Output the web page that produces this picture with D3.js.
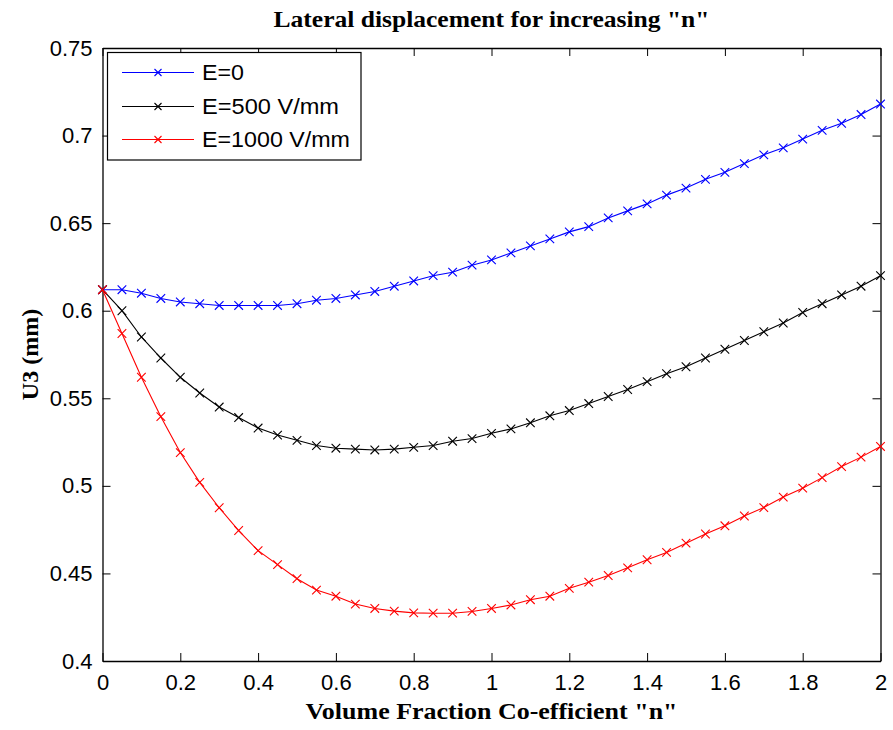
<!DOCTYPE html>
<html>
<head>
<meta charset="utf-8">
<script src="https://cdn.jsdelivr.net/npm/d3@7"></script>
<style>
  html, body { margin: 0; padding: 0; background: #fff; }
  svg { display: block; }
</style>
</head>
<body>
<svg id="chart" width="893" height="730"></svg>
<script>
const nValues = [0, 0.05, 0.1, 0.15, 0.2, 0.25, 0.3, 0.35, 0.4, 0.45, 0.5, 0.55, 0.6, 0.65, 0.7, 0.75, 0.8, 0.85, 0.9, 0.95, 1.0,
  1.05, 1.1, 1.15, 1.2, 1.25, 1.3, 1.35, 1.4, 1.45, 1.5, 1.55, 1.6, 1.65, 1.7, 1.75, 1.8, 1.85, 1.9, 1.95, 2.0];

const uE0 = [0.612, 0.612, 0.610, 0.607, 0.605, 0.604, 0.603, 0.603, 0.603, 0.603, 0.604, 0.606, 0.607, 0.609, 0.611, 0.614,
  0.617, 0.620, 0.622, 0.626, 0.629, 0.633, 0.637, 0.641, 0.645, 0.648, 0.653, 0.657, 0.661, 0.666, 0.670, 0.675, 0.679,
  0.684, 0.689, 0.693, 0.698, 0.703, 0.707, 0.712, 0.718];

const uE500 = [0.612, 0.600, 0.585, 0.573, 0.562, 0.553, 0.545, 0.539, 0.533, 0.529, 0.526, 0.523, 0.5215, 0.521, 0.5205,
  0.521, 0.522, 0.523, 0.5255, 0.527, 0.530, 0.5325, 0.536, 0.540, 0.543, 0.547, 0.551, 0.555, 0.5595, 0.564, 0.568, 0.573,
  0.578, 0.583, 0.588, 0.593, 0.599, 0.604, 0.609, 0.614, 0.620];

const uE1000 = [0.612, 0.587, 0.562, 0.5395, 0.519, 0.502, 0.4875, 0.4745, 0.463, 0.455, 0.447, 0.4405, 0.437, 0.4325, 0.430,
  0.4285, 0.4275, 0.4273, 0.4273, 0.4283, 0.430, 0.432, 0.435, 0.437, 0.4415, 0.445, 0.4488, 0.4532, 0.4578, 0.462, 0.4673,
  0.4725, 0.4772, 0.4828, 0.4876, 0.4936, 0.4987, 0.5047, 0.511, 0.5164, 0.5225];

const seriesNames = ["E=0", "E=500 V/mm", "E=1000 V/mm"];
const seriesColors = ["#0000ff", "#000000", "#ff0000"];
const xTicks = [0, 0.2, 0.4, 0.6, 0.8, 1, 1.2, 1.4, 1.6, 1.8, 2];
const yTicks = [0.4, 0.45, 0.5, 0.55, 0.6, 0.65, 0.7, 0.75];

const titleText = 'Lateral displacement for increasing "n"';
const xLabelText = 'Volume Fraction Co-efficient "n"';
const yLabelText = 'U3 (mm)';

const L = 102.5, R = 880.5, T = 48, B = 661;
const svg = d3.select("#chart");
const x = d3.scaleLinear().domain([0, 2]).range([L, R]);
const y = d3.scaleLinear().domain([0.4, 0.75]).range([B, T]);

const tickFont = "'Liberation Sans', Arial, sans-serif";
const serif = "'Liberation Serif', 'Times New Roman', serif";

// Axes (MATLAB style box with inward ticks on all sides)
const tl = 8;
const gx = svg.append("g").attr("transform", `translate(0,${B})`)
  .call(d3.axisBottom(x).tickValues(xTicks).tickSizeInner(-tl).tickSizeOuter(0).tickPadding(13)
    .tickFormat(d3.format("~g")));
const gxTop = svg.append("g").attr("transform", `translate(0,${T})`)
  .call(d3.axisTop(x).tickValues(xTicks).tickSizeInner(-tl).tickSizeOuter(0).tickFormat(""));
const gy = svg.append("g").attr("transform", `translate(${L},0)`)
  .call(d3.axisLeft(y).tickValues(yTicks).tickSizeInner(-tl).tickSizeOuter(0).tickPadding(10)
    .tickFormat(d3.format("~g")));
const gyR = svg.append("g").attr("transform", `translate(${R},0)`)
  .call(d3.axisRight(y).tickValues(yTicks).tickSizeInner(-tl).tickSizeOuter(0).tickFormat(""));

[gx, gxTop, gy, gyR].forEach(g => {
  g.select(".domain").attr("stroke", "#000").attr("stroke-width", 1.3);
  g.selectAll(".tick line").attr("stroke", "#000").attr("stroke-width", 1);
  g.selectAll("text").attr("font-family", tickFont).attr("font-size", 22).attr("fill", "#000");
});
gx.selectAll(".tick text").attr("dy", "0.71em").attr("y", 13);

// Series
const series = [uE0, uE500, uE1000];
const line = d3.line().x((d, i) => x(nValues[i])).y(d => y(d));
const ms = 4.3;
series.forEach((vals, si) => {
  const g = svg.append("g");
  g.append("path").datum(vals).attr("d", line).attr("fill", "none")
    .attr("stroke", seriesColors[si]).attr("stroke-width", 1.1);
  g.selectAll("path.mk").data(vals).join("path").attr("class", "mk")
    .attr("d", (d, i) => {
      const cx = x(nValues[i]), cy = y(d);
      return `M${cx - ms},${cy - ms}L${cx + ms},${cy + ms}M${cx - ms},${cy + ms}L${cx + ms},${cy - ms}`;
    })
    .attr("stroke", seriesColors[si]).attr("stroke-width", 1.1).attr("fill", "none");
});

// Legend
const legendWidths = [42, 137, 148];
const lg = svg.append("g");
lg.append("rect").attr("x", 107.5).attr("y", 52.5).attr("width", 253.5).attr("height", 107.5)
  .attr("fill", "#fff").attr("stroke", "#000").attr("stroke-width", 1.2);
const rowY = [72.5, 106.5, 139.5];
seriesNames.forEach((name, i) => {
  const yy = rowY[i];
  lg.append("line").attr("x1", 122).attr("x2", 194).attr("y1", yy).attr("y2", yy)
    .attr("stroke", seriesColors[i]).attr("stroke-width", 1.1);
  const m = 3.5, cx = 158;
  lg.append("path").attr("d", `M${cx - m},${yy - m}L${cx + m},${yy + m}M${cx - m},${yy + m}L${cx + m},${yy - m}`)
    .attr("stroke", seriesColors[i]).attr("stroke-width", 1.1);
  lg.append("text").attr("x", 202).attr("y", yy).attr("dy", "0.36em")
    .attr("font-family", tickFont).attr("font-size", 21.5).attr("fill", "#000")
    .attr("textLength", legendWidths[i]).attr("lengthAdjust", "spacingAndGlyphs").text(name);
});

// Title and labels
svg.append("text").attr("x", (L + R) / 2).attr("y", 27).attr("text-anchor", "middle")
  .attr("font-family", serif).attr("font-weight", "bold").attr("font-size", 24)
  .attr("textLength", 436).attr("lengthAdjust", "spacingAndGlyphs").text(titleText);
svg.append("text").attr("x", (L + R) / 2).attr("y", 719).attr("text-anchor", "middle")
  .attr("font-family", serif).attr("font-weight", "bold").attr("font-size", 24)
  .attr("textLength", 372).attr("lengthAdjust", "spacingAndGlyphs").text(xLabelText);
svg.append("text").attr("transform", `translate(38,${(T + B) / 2}) rotate(-90)`).attr("text-anchor", "middle")
  .attr("font-family", serif).attr("font-weight", "bold").attr("font-size", 24)
  .text(yLabelText);
</script>
</body>
</html>
